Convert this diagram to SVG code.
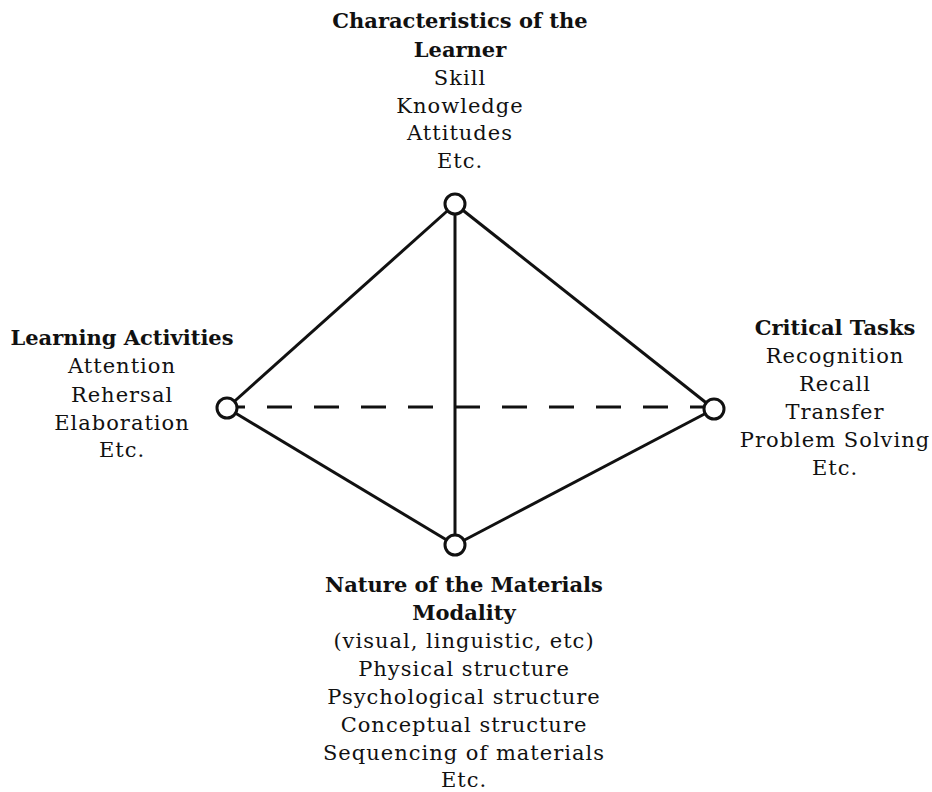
<svg xmlns="http://www.w3.org/2000/svg" width="932" height="792" viewBox="0 0 932 792">
<style>
text{font-family:"DejaVu Serif",serif;font-size:21px;letter-spacing:1px;fill:#111;text-anchor:middle}
.b{font-weight:bold;letter-spacing:0}
.ln{stroke:#111;stroke-width:3;fill:none}
.nd{stroke:#111;stroke-width:3;fill:#fff}
</style>
<rect width="932" height="792" fill="#fff"/>
<g id="connectors">
<line class="ln" x1="455" y1="204" x2="227" y2="408"/>
<line class="ln" x1="455" y1="204" x2="714" y2="409"/>
<line class="ln" x1="227" y1="408" x2="455" y2="545"/>
<line class="ln" x1="714" y1="409" x2="455" y2="545"/>
<line class="ln" x1="455" y1="204" x2="455" y2="545"/>
<line class="ln" x1="238" y1="407" x2="703" y2="407" stroke-dasharray="25 22" stroke-dashoffset="18"/>
</g>
<g id="learner">
<circle class="nd" cx="455" cy="204" r="10"/>
<text x="460" y="28" class="b">Characteristics of the</text>
<text x="460" y="57" class="b">Learner</text>
<text x="460" y="85">Skill</text>
<text x="460" y="113">Knowledge</text>
<text x="460" y="140">Attitudes</text>
<text x="460" y="168">Etc.</text>
</g>
<g id="activities">
<circle class="nd" cx="227" cy="408" r="10"/>
<text x="122" y="345" class="b">Learning Activities</text>
<text x="122" y="373">Attention</text>
<text x="122" y="402">Rehersal</text>
<text x="122" y="430">Elaboration</text>
<text x="122" y="457">Etc.</text>
</g>
<g id="tasks">
<circle class="nd" cx="714" cy="409" r="10"/>
<text x="835" y="335" class="b">Critical Tasks</text>
<text x="835" y="363">Recognition</text>
<text x="835" y="391">Recall</text>
<text x="835" y="419">Transfer</text>
<text x="835" y="447">Problem Solving</text>
<text x="835" y="475">Etc.</text>
</g>
<g id="materials">
<circle class="nd" cx="455" cy="545" r="10"/>
<text x="464" y="592" class="b">Nature of the Materials</text>
<text x="464" y="620" class="b">Modality</text>
<text x="464" y="648">(visual, linguistic, etc)</text>
<text x="464" y="676">Physical structure</text>
<text x="464" y="704">Psychological structure</text>
<text x="464" y="732">Conceptual structure</text>
<text x="464" y="760">Sequencing of materials</text>
<text x="464" y="787">Etc.</text>
</g>
</svg>
